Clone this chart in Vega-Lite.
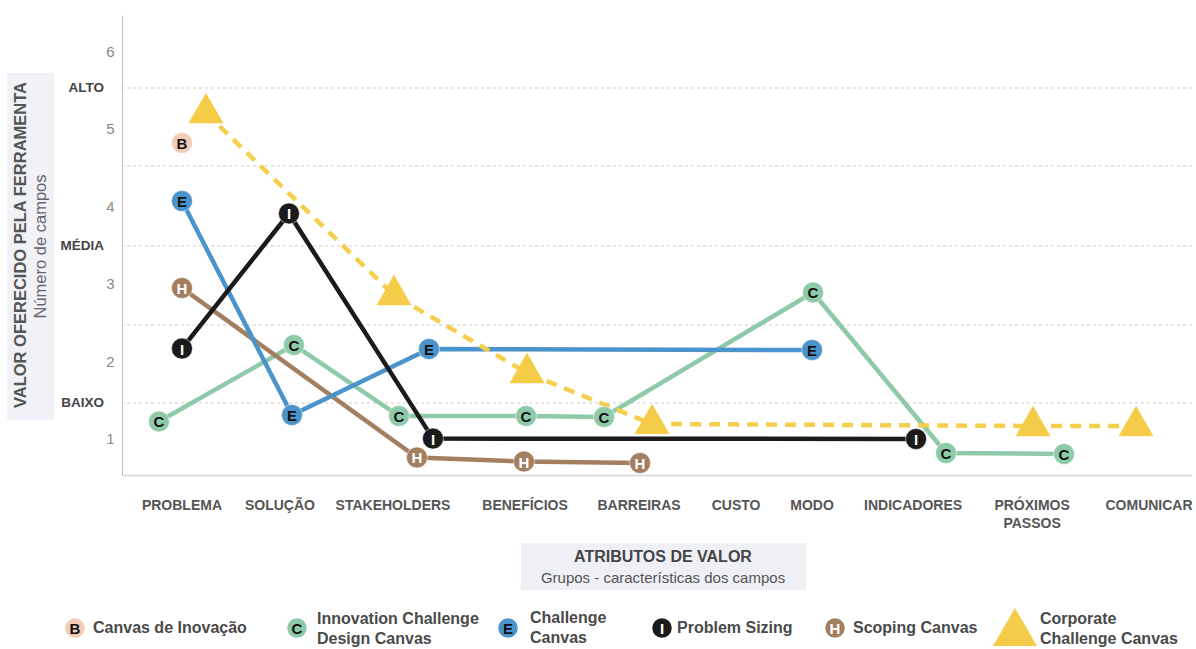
{
  "$schema": "https://vega.github.io/schema/vega-lite/v6.json",
  "padding": {"left": 0, "top": 15, "right": 0, "bottom": 0},
  "spacing": 0,
  "config": {
    "view": {"stroke": null},
    "font": "Liberation Sans",
    "text": {"font": "Liberation Sans"},
    "concat": {"spacing": 0}
  },
  "datasets": {
    "pontos": [
      {"serie": "C", "letra": "C", "atributo": "PROBLEMA", "pos": -0.214, "campos": 1.221},
      {"serie": "C", "letra": "C", "atributo": "SOLUÇÃO", "pos": 1.042, "campos": 2.209},
      {"serie": "C", "letra": "C", "atributo": "STAKEHOLDERS", "pos": 2.02, "campos": 1.292},
      {"serie": "C", "letra": "C", "atributo": "BENEFÍCIOS", "pos": 3.202, "campos": 1.292},
      {"serie": "C", "letra": "C", "atributo": "BARREIRAS", "pos": 3.928, "campos": 1.279},
      {"serie": "C", "letra": "C", "atributo": "MODO", "pos": 5.873, "campos": 2.887},
      {"serie": "C", "letra": "C", "atributo": "INDICADORES", "pos": 7.111, "campos": 0.814},
      {"serie": "C", "letra": "C", "atributo": "PRÓXIMOS PASSOS", "pos": 8.209, "campos": 0.801},
      {"serie": "H", "letra": "H", "atributo": "PROBLEMA", "pos": 0, "campos": 2.945},
      {"serie": "H", "letra": "H", "atributo": "STAKEHOLDERS", "pos": 2.187, "campos": 0.756},
      {"serie": "H", "letra": "H", "atributo": "BENEFÍCIOS", "pos": 3.183, "campos": 0.704},
      {"serie": "H", "letra": "H", "atributo": "BARREIRAS", "pos": 4.263, "campos": 0.685},
      {"serie": "E", "letra": "E", "atributo": "PROBLEMA", "pos": 0, "campos": 4.068},
      {"serie": "E", "letra": "E", "atributo": "SOLUÇÃO", "pos": 1.024, "campos": 1.305},
      {"serie": "E", "letra": "E", "atributo": "STAKEHOLDERS", "pos": 2.299, "campos": 2.157},
      {"serie": "E", "letra": "E", "atributo": "MODO", "pos": 5.864, "campos": 2.144},
      {"serie": "I", "letra": "I", "atributo": "PROBLEMA", "pos": 0, "campos": 2.163},
      {"serie": "I", "letra": "I", "atributo": "SOLUÇÃO", "pos": 0.996, "campos": 3.907},
      {"serie": "I", "letra": "I", "atributo": "STAKEHOLDERS", "pos": 2.336, "campos": 1.0},
      {"serie": "I", "letra": "I", "atributo": "INDICADORES", "pos": 6.832, "campos": 0.995},
      {"serie": "B", "letra": "B", "atributo": "PROBLEMA", "pos": 0, "campos": 4.817},
      {"serie": "T", "letra": "", "atributo": "PROBLEMA", "pos": 0.223, "campos": 5.204},
      {"serie": "T", "letra": "", "atributo": "STAKEHOLDERS", "pos": 1.973, "campos": 2.854},
      {"serie": "T", "letra": "", "atributo": "BENEFÍCIOS", "pos": 3.211, "campos": 1.847},
      {"serie": "T", "letra": "", "atributo": "BARREIRAS", "pos": 4.375, "campos": 1.189},
      {"serie": "T", "letra": "", "atributo": "PRÓXIMOS PASSOS", "pos": 7.921, "campos": 1.163},
      {"serie": "T", "letra": "", "atributo": "COMUNICAR", "pos": 8.879, "campos": 1.163}
    ],
    "grade": [
      {"nivel": "BAIXO", "v": 1.46},
      {"nivel": "", "v": 2.467},
      {"nivel": "MÉDIA", "v": 3.487},
      {"nivel": "", "v": 4.52},
      {"nivel": "ALTO", "v": 5.527}
    ],
    "categorias": [
      {"atributo": "PROBLEMA", "pos": 0},
      {"atributo": "SOLUÇÃO", "pos": 0.912},
      {"atributo": "STAKEHOLDERS", "pos": 1.964},
      {"atributo": "BENEFÍCIOS", "pos": 3.193},
      {"atributo": "BARREIRAS", "pos": 4.254},
      {"atributo": "CUSTO", "pos": 5.157},
      {"atributo": "MODO", "pos": 5.864},
      {"atributo": "INDICADORES", "pos": 6.804},
      {"atributo": "PRÓXIMOS\nPASSOS", "pos": 7.912},
      {"atributo": "COMUNICAR", "pos": 9}
    ],
    "legenda": [
      {"serie": "B", "letra": "B", "nome": "Canvas de Inovação"},
      {"serie": "C", "letra": "C", "nome": "Innovation Challenge\nDesign Canvas"},
      {"serie": "E", "letra": "E", "nome": "Challenge\nCanvas"},
      {"serie": "I", "letra": "I", "nome": "Problem Sizing"},
      {"serie": "H", "letra": "H", "nome": "Scoping Canvas"},
      {"serie": "T", "letra": "", "nome": "Corporate\nChallenge Canvas"}
    ]
  },
  "vconcat": [
    {
      "spacing": 0,
      "hconcat": [
        {
          "width": 105,
          "height": 460,
          "layer": [
            {
              "data": {"values": [{}]},
              "mark": {"type": "rect", "fill": "#f0f2f7"},
              "encoding": {
                "x": {"value": 7}, "x2": {"value": 54},
                "y": {"value": 58}, "y2": {"value": 405}
              }
            },
            {
              "data": {"values": [{}]},
              "mark": {"type": "text", "angle": 270, "align": "center", "baseline": "middle", "fontSize": 16.5, "fontWeight": "bold", "color": "#555"},
              "encoding": {"x": {"value": 20.5}, "y": {"value": 230}, "text": {"value": "VALOR OFERECIDO PELA FERRAMENTA"}}
            },
            {
              "data": {"values": [{}]},
              "mark": {"type": "text", "angle": 270, "align": "center", "baseline": "middle", "fontSize": 16.5, "color": "#666"},
              "encoding": {"x": {"value": 40.5}, "y": {"value": 231.5}, "text": {"value": "Número de campos"}}
            },
            {
              "data": {"name": "grade"},
              "transform": [{"filter": "datum.nivel !== ''"}],
              "mark": {"type": "text", "align": "right", "baseline": "middle", "fontSize": 13.5, "fontWeight": "bold", "color": "#444"},
              "encoding": {
                "x": {"value": 104},
                "y": {"field": "v", "type": "quantitative", "scale": {"domain": [0.53, 6.47], "nice": false, "zero": false}, "axis": null},
                "text": {"field": "nivel"}
              }
            }
          ]
        },
        {
          "width": 1070,
          "height": 460,
          "layer": [
            {
              "data": {"name": "grade"},
              "mark": {"type": "rule", "strokeDash": [3, 3], "color": "#cccccc", "strokeWidth": 1},
              "encoding": {
                "y": {"field": "v", "type": "quantitative", "scale": {"domain": [0.53, 6.47], "nice": false, "zero": false},
                      "axis": {"values": [1, 2, 3, 4, 5, 6], "format": "d", "ticks": false, "grid": false, "title": null, "domainColor": "#bbbbbb", "labelColor": "#888888", "labelFontSize": 15, "labelPadding": 8, "labelFont": "Liberation Sans"}}
              }
            },
            {
              "data": {"name": "pontos"},
              "transform": [{"filter": "datum.serie !== 'B' && datum.serie !== 'T'"}],
              "mark": {"type": "line", "strokeWidth": 4.5},
              "encoding": {
                "x": {"field": "pos", "type": "quantitative", "scale": {"domain": [-0.558, 9.4], "nice": false, "zero": false},
                      "axis": {"labels": false, "ticks": false, "grid": false, "title": null, "domainColor": "#dddddd", "domainWidth": 2}},
                "y": {"field": "campos", "type": "quantitative"},
                "color": {"field": "serie", "type": "nominal", "legend": null,
                          "scale": {"domain": ["B", "C", "E", "I", "H", "T"], "range": ["#f2ccb6", "#8ecaa9", "#4b94cb", "#1b1b1b", "#a37f60", "#f5cc47"]}},
                "detail": {"field": "serie"}
              }
            },
            {
              "data": {"name": "pontos"},
              "transform": [{"filter": "datum.serie === 'T'"}],
              "mark": {"type": "line", "strokeWidth": 4.5, "strokeDash": [11, 8], "color": "#f5cf4c"},
              "encoding": {
                "x": {"field": "pos", "type": "quantitative"},
                "y": {"field": "campos", "type": "quantitative"}
              }
            },
            {
              "data": {"name": "pontos"},
              "transform": [{"filter": "datum.serie !== 'T'"}],
              "mark": {"type": "point", "shape": "circle", "filled": true, "opacity": 1, "size": 440, "stroke": "white", "strokeWidth": 1, "strokeOpacity": 0.5},
              "encoding": {
                "x": {"field": "pos", "type": "quantitative"},
                "y": {"field": "campos", "type": "quantitative"},
                "color": {"field": "serie", "type": "nominal", "legend": null}
              }
            },
            {
              "data": {"name": "pontos"},
              "transform": [{"filter": "datum.serie !== 'T'"}],
              "mark": {"type": "text", "fontSize": 15, "fontWeight": "bold", "align": "center", "baseline": "middle", "dy": 1},
              "encoding": {
                "x": {"field": "pos", "type": "quantitative"},
                "y": {"field": "campos", "type": "quantitative"},
                "text": {"field": "letra"},
                "color": {"condition": {"test": "datum.letra === 'I' || datum.letra === 'H'", "value": "white"}, "value": "#111111"}
              }
            },
            {
              "data": {"name": "pontos"},
              "transform": [{"filter": "datum.serie === 'T'"}],
              "mark": {"type": "point", "shape": "triangle-up", "filled": true, "opacity": 1, "size": 1225, "color": "#f5cc47"},
              "encoding": {
                "x": {"field": "pos", "type": "quantitative"},
                "y": {"field": "campos", "type": "quantitative"},
                "yOffset": {"value": -5}
              }
            },
            {
              "data": {"name": "categorias"},
              "mark": {"type": "text", "fontSize": 14, "fontWeight": "bold", "color": "#555555", "align": "center", "baseline": "top", "dy": 24, "lineBreak": "\n", "lineHeight": 18},
              "encoding": {
                "x": {"field": "pos", "type": "quantitative"},
                "y": {"value": "height"},
                "text": {"field": "atributo", "type": "nominal"}
              }
            }
          ]
        }
      ]
    },
    {
      "width": 1196,
      "height": 64,
      "layer": [
        {
          "data": {"values": [{}]},
          "mark": {"type": "rect", "fill": "#eef0f6"},
          "encoding": {"x": {"value": 521}, "x2": {"value": 806}, "y": {"value": 12}, "y2": {"value": 59}}
        },
        {
          "data": {"values": [{}]},
          "mark": {"type": "text", "fontSize": 16, "fontWeight": "bold", "color": "#444444", "align": "center", "baseline": "middle"},
          "encoding": {"x": {"value": 663}, "y": {"value": 26}, "text": {"value": "ATRIBUTOS DE VALOR"}}
        },
        {
          "data": {"values": [{}]},
          "mark": {"type": "text", "fontSize": 15, "color": "#555555", "align": "center", "baseline": "middle"},
          "encoding": {"x": {"value": 663}, "y": {"value": 47}, "text": {"value": "Grupos - características dos campos"}}
        }
      ]
    },
    {
      "spacing": 0,
      "hconcat": [
        {
          "width": 286, "height": 54,
          "data": {"name": "legenda"},
          "transform": [{"filter": "datum.serie === 'B'"}],
          "layer": [
            {"mark": {"type": "point", "shape": "circle", "filled": true, "opacity": 1, "size": 380, "color": "#f2ccb6"},
             "encoding": {"x": {"value": 75}, "y": {"value": 33}}},
            {"mark": {"type": "text", "fontSize": 15, "fontWeight": "bold", "align": "center", "baseline": "middle", "dy": 1, "color": "#111111"},
             "encoding": {"x": {"value": 75}, "y": {"value": 33}, "text": {"field": "letra"}}},
            {"mark": {"type": "text", "fontSize": 16, "fontWeight": "bold", "color": "#4a4a4a", "align": "left", "baseline": "middle", "lineBreak": "\n", "lineHeight": 20},
             "encoding": {"x": {"value": 93}, "y": {"value": 33}, "text": {"field": "nome"}}}
          ]
        },
        {
          "width": 211, "height": 54,
          "data": {"name": "legenda"},
          "transform": [{"filter": "datum.serie === 'C'"}],
          "layer": [
            {"mark": {"type": "point", "shape": "circle", "filled": true, "opacity": 1, "size": 380, "color": "#8ecaa9"},
             "encoding": {"x": {"value": 11}, "y": {"value": 33}}},
            {"mark": {"type": "text", "fontSize": 15, "fontWeight": "bold", "align": "center", "baseline": "middle", "dy": 1, "color": "#111111"},
             "encoding": {"x": {"value": 11}, "y": {"value": 33}, "text": {"field": "letra"}}},
            {"mark": {"type": "text", "fontSize": 16, "fontWeight": "bold", "color": "#4a4a4a", "align": "left", "baseline": "middle", "lineBreak": "\n", "lineHeight": 20},
             "encoding": {"x": {"value": 31}, "y": {"value": 24}, "text": {"field": "nome"}}}
          ]
        },
        {
          "width": 154, "height": 54,
          "data": {"name": "legenda"},
          "transform": [{"filter": "datum.serie === 'E'"}],
          "layer": [
            {"mark": {"type": "point", "shape": "circle", "filled": true, "opacity": 1, "size": 380, "color": "#4b94cb"},
             "encoding": {"x": {"value": 11}, "y": {"value": 33}}},
            {"mark": {"type": "text", "fontSize": 15, "fontWeight": "bold", "align": "center", "baseline": "middle", "dy": 1, "color": "#111111"},
             "encoding": {"x": {"value": 11}, "y": {"value": 33}, "text": {"field": "letra"}}},
            {"mark": {"type": "text", "fontSize": 16, "fontWeight": "bold", "color": "#4a4a4a", "align": "left", "baseline": "middle", "lineBreak": "\n", "lineHeight": 20},
             "encoding": {"x": {"value": 33}, "y": {"value": 23}, "text": {"field": "nome"}}}
          ]
        },
        {
          "width": 173, "height": 54,
          "data": {"name": "legenda"},
          "transform": [{"filter": "datum.serie === 'I'"}],
          "layer": [
            {"mark": {"type": "point", "shape": "circle", "filled": true, "opacity": 1, "size": 380, "color": "#1b1b1b"},
             "encoding": {"x": {"value": 11}, "y": {"value": 33}}},
            {"mark": {"type": "text", "fontSize": 15, "fontWeight": "bold", "align": "center", "baseline": "middle", "dy": 1, "color": "white"},
             "encoding": {"x": {"value": 11}, "y": {"value": 33}, "text": {"field": "letra"}}},
            {"mark": {"type": "text", "fontSize": 16, "fontWeight": "bold", "color": "#4a4a4a", "align": "left", "baseline": "middle", "lineBreak": "\n", "lineHeight": 20},
             "encoding": {"x": {"value": 26}, "y": {"value": 33}, "text": {"field": "nome"}}}
          ]
        },
        {
          "width": 169, "height": 54,
          "data": {"name": "legenda"},
          "transform": [{"filter": "datum.serie === 'H'"}],
          "layer": [
            {"mark": {"type": "point", "shape": "circle", "filled": true, "opacity": 1, "size": 380, "color": "#a37f60"},
             "encoding": {"x": {"value": 11}, "y": {"value": 33}}},
            {"mark": {"type": "text", "fontSize": 15, "fontWeight": "bold", "align": "center", "baseline": "middle", "dy": 1, "color": "white"},
             "encoding": {"x": {"value": 11}, "y": {"value": 33}, "text": {"field": "letra"}}},
            {"mark": {"type": "text", "fontSize": 16, "fontWeight": "bold", "color": "#4a4a4a", "align": "left", "baseline": "middle", "lineBreak": "\n", "lineHeight": 20},
             "encoding": {"x": {"value": 29}, "y": {"value": 33}, "text": {"field": "nome"}}}
          ]
        },
        {
          "width": 203, "height": 54,
          "data": {"name": "legenda"},
          "transform": [{"filter": "datum.serie === 'T'"}],
          "layer": [
            {"mark": {"type": "point", "shape": "triangle-up", "filled": true, "opacity": 1, "size": 1936, "color": "#f5cc47"},
             "encoding": {"x": {"value": 22}, "y": {"value": 32}}},
            {"mark": {"type": "text", "fontSize": 16, "fontWeight": "bold", "color": "#4a4a4a", "align": "left", "baseline": "middle", "lineBreak": "\n", "lineHeight": 20},
             "encoding": {"x": {"value": 47}, "y": {"value": 24}, "text": {"field": "nome"}}}
          ]
        }
      ]
    }
  ]
}
